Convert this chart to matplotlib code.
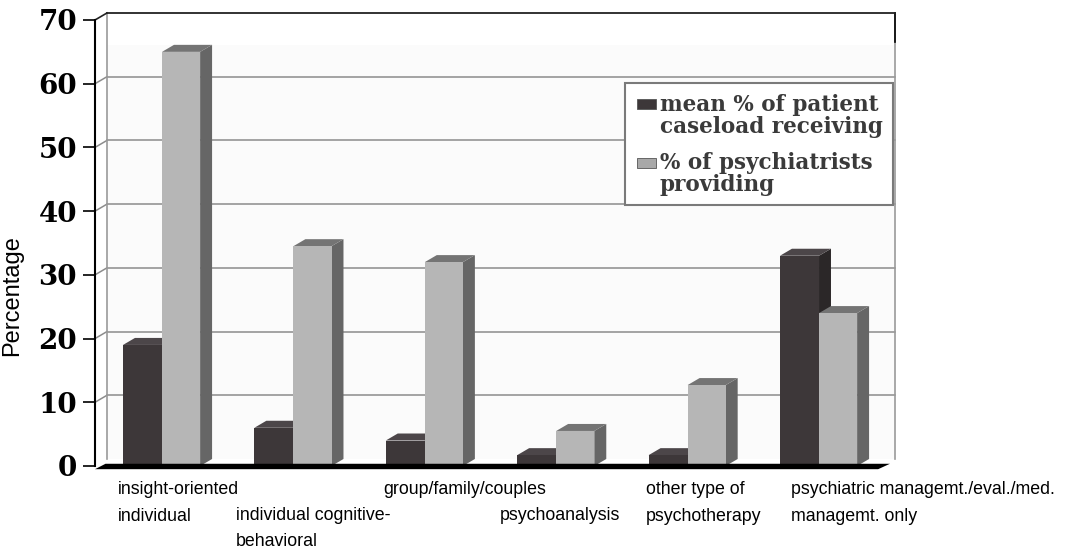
import matplotlib.pyplot as plt
from matplotlib.patches import Polygon, Rectangle

# therapy categories and the two series (percent)
categories = [
    'insight-oriented\nindividual',
    'individual cognitive-\nbehavioral',
    'group/family/couples',
    'psychoanalysis',
    'other type of\npsychotherapy',
    'psychiatric managemt./eval./med.\nmanagemt. only',
]
caseload_pct = [19, 6, 4, 1.7, 1.7, 33]
providing_pct = [65, 34.5, 32, 5.5, 12.7, 24]
series_names = ['mean % of patient\ncaseload receiving',
                '% of psychiatrists\nproviding']
yticks = [0, 10, 20, 30, 40, 50, 60, 70]

# label placement: left offset within each slot and row (0 upper, 1 lower)
label_offset = [0.175, 0.073, 0.19, 0.08, 0.19, 0.30]
label_row = [0, 1, 0, 1, 0, 0]

# pseudo-3d depth offset in data units
DX = 0.091
DY = 1.1

DARK = ('#3d3739', '#4c4649', '#2b2728')    # front, top, side
LIGHT = ('#b6b6b6', '#747474', '#666666')


def bar3d(ax, x0, w, h, colors, z):
    front, top, side = colors
    ax.add_patch(Polygon([(x0 + w, 0), (x0 + w + DX, DY), (x0 + w + DX, h + DY), (x0 + w, h)],
                         closed=True, fc=side, ec='none', zorder=z, clip_on=False))
    ax.add_patch(Polygon([(x0, h), (x0 + w, h), (x0 + w + DX, h + DY), (x0 + DX, h + DY)],
                         closed=True, fc=top, ec='none', zorder=z, clip_on=False))
    ax.add_patch(Rectangle((x0, 0), w, h, fc=front, ec='none', zorder=z + 0.1, clip_on=False))


def main():
    fig = plt.figure(figsize=(10.76, 5.5), dpi=100)
    ax = fig.add_axes([95 / 1076, 84 / 550, 788.4 / 1076, 446 / 550])
    n = len(categories)
    ax.set_xlim(0, n)
    ax.set_ylim(0, 70)

    # back wall and its gridlines
    ax.add_patch(Rectangle((DX, DY), n, 66 - DY, fc='#fbfbfb', ec='none', zorder=0, clip_on=False))
    for v in yticks[1:-1]:
        ax.plot([DX, n + DX], [v + DY, v + DY], color='#8c8c8c', lw=1.1, zorder=1, clip_on=False)
        ax.plot([0, DX], [v, v + DY], color='#8c8c8c', lw=1.1, zorder=1, clip_on=False)
    ax.plot([DX, DX], [DY, 70 + DY], color='#9a9a9a', lw=1.2, zorder=1, clip_on=False)
    ax.plot([n + DX, n + DX], [DY, 70 + DY], color='#9a9a9a', lw=1.2, zorder=1, clip_on=False)
    ax.plot([n + DX, n + DX], [66.5, 70 + DY], color='black', lw=1.2, zorder=1, clip_on=False)
    ax.plot([DX, n + DX], [70 + DY, 70 + DY], color='#222222', lw=1.3, zorder=1, clip_on=False)
    ax.plot([0, DX], [70, 70 + DY], color='#222222', lw=1.2, zorder=1, clip_on=False)

    # bars
    w_dark = 0.297
    w_light = 0.29
    for i in range(n):
        x0 = i + 0.213
        bar3d(ax, x0, w_dark, caseload_pct[i], DARK, 3 + i)
        bar3d(ax, x0 + w_dark, w_light, providing_pct[i], LIGHT, 3.5 + i)

    # floor seen edge-on
    ax.add_patch(Polygon([(0.0, -0.5), (5.96, -0.5), (6.05, 0.35), (0.08, 0.35)],
                         closed=True, fc='black', ec='none', zorder=20, clip_on=False))

    # axes styling
    for s in ['top', 'right', 'bottom']:
        ax.spines[s].set_visible(False)
    ax.spines['left'].set_linewidth(1.5)
    ax.spines['left'].set_zorder(21)
    ax.set_xticks([])
    ax.set_yticks(yticks)
    ax.set_yticklabels([str(t) for t in yticks], fontfamily='DejaVu Serif',
                       fontweight='bold', fontsize=20)
    ax.tick_params(axis='y', length=9, width=1.2, pad=4)
    ax.set_ylabel('Percentage', fontfamily='Liberation Sans', fontsize=17)
    ax.yaxis.set_label_coords(-0.091, 0.383)
    ax.patch.set_visible(False)

    # category labels under the floor
    trans = ax.get_xaxis_transform()
    row_y = [-0.034, -0.091]
    for i, lab in enumerate(categories):
        ax.text(i + label_offset[i], row_y[label_row[i]], lab, transform=trans,
                ha='left', va='top', fontsize=12.8, linespacing=1.72,
                fontfamily='Liberation Sans')

    # legend box
    fig.patches.append(Rectangle((625 / 1076, 345 / 550), 268 / 1076, 122 / 550,
                                 transform=fig.transFigure, fc='white', ec='#7a7a7a',
                                 lw=1.5, zorder=30))
    swatches = [DARK[0], '#a8a8a8']
    text_y = [0.79, 0.683]
    for k in range(2):
        fig.patches.append(Rectangle((637 / 1076, text_y[k] + 0.012), 19 / 1076, 10 / 550,
                                     transform=fig.transFigure, fc=swatches[k],
                                     ec='#555555', lw=0.6, zorder=31))
        fig.text(660 / 1076, text_y[k], series_names[k], ha='left', va='center',
                 fontfamily='DejaVu Serif', fontweight='bold', fontsize=15.5,
                 color='#3a3a3a', linespacing=1.0, zorder=32)

    fig.savefig('out.png', dpi=100)


if __name__ == '__main__':
    main()
